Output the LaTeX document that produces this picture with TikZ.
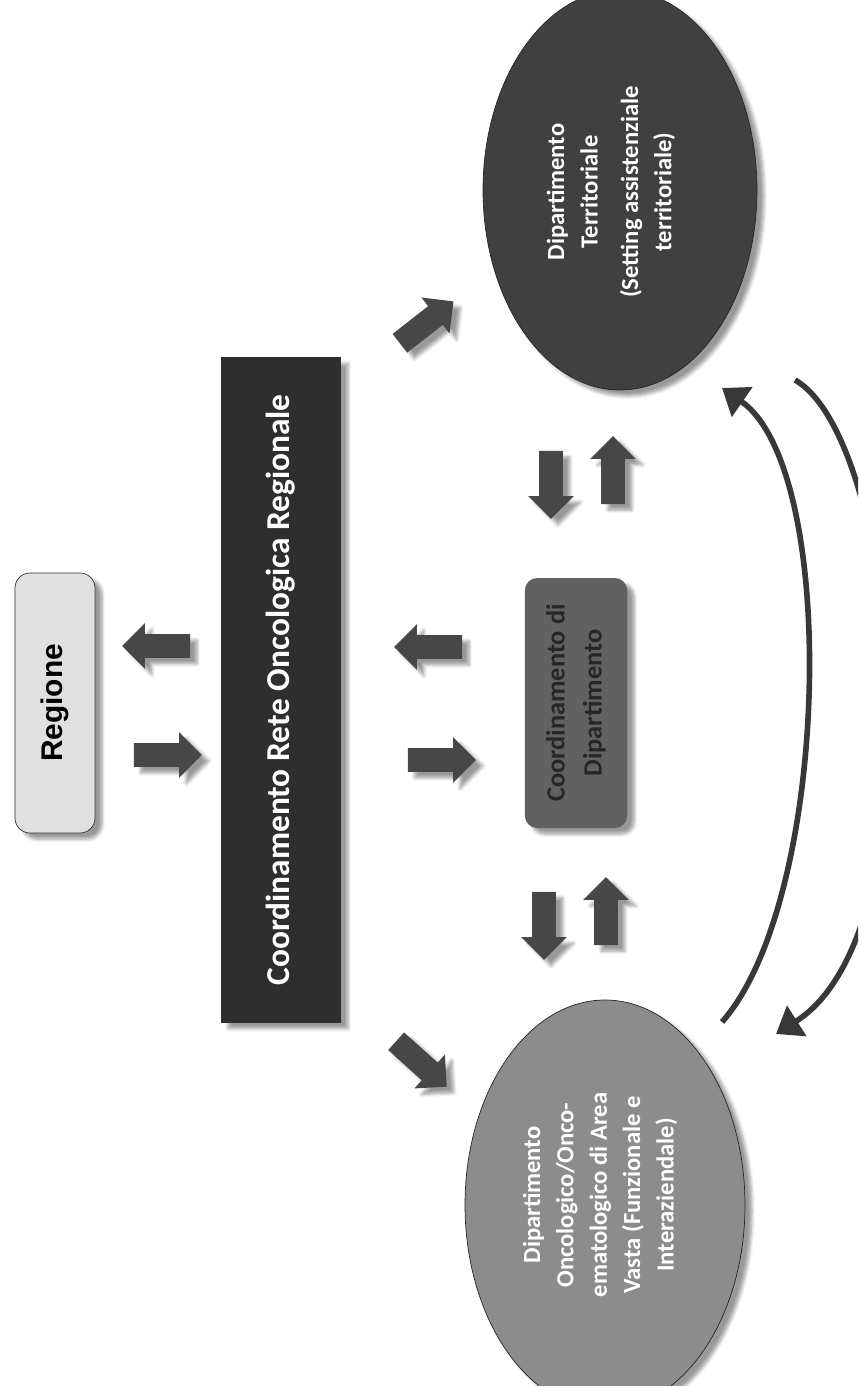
\documentclass[tikz,border=0pt]{standalone}
\usepackage{fontspec}
\setmainfont{Carlito}
\newfontfamily\regfont{Liberation Sans}
\usetikzlibrary{shapes.arrows,shapes.geometric,arrows.meta,shadows.blur}

\begin{document}
\begin{tikzpicture}[x=0.2mm,y=-0.2mm,
  every node/.style={font=\bfseries},
  soft/.style={blur shadow={shadow xshift=1.4mm,shadow yshift=-1.2mm,shadow opacity=40,shadow blur steps=6}},
  blk/.style={single arrow,fill=black!72,minimum height=13.6mm,minimum width=0pt,
    inner xsep=0pt,inner ysep=2.3mm,single arrow head extend=2.2mm,soft},
  regbox/.style={rotate=90,draw=black!80,fill=black!12,rounded corners=3mm,
    minimum width=52mm,minimum height=16mm,soft,
    font=\regfont\bfseries\fontsize{17}{20}\selectfont},
  crbox/.style={rotate=90,fill=black!82,text=white,minimum width=133mm,minimum height=24mm,
    soft,font=\bfseries\fontsize{19}{22}\selectfont},
  cdbox/.style={rotate=90,fill=black!62,text=black!85,rounded corners=2.5mm,align=center,
    minimum width=50mm,minimum height=20.5mm,soft,font=\bfseries\fontsize{15}{21}\selectfont},
  ell/.style={ellipse,rotate=90,draw=black!85,thin,inner sep=0pt,soft},
  etext/.style={rotate=90,text=white,align=center,font=\bfseries\fontsize{14}{19}\selectfont},
  curv/.style={draw=black!78,line width=3.2pt,-{Triangle[width=20pt,length=14pt]}}]
\useasboundingbox (0,0) rectangle (858,1386);
\clip (0,0) rectangle (858,1386);

% boxes
\node[regbox] (reg) at (55,703) {Regione};
\node[crbox] (crn) at (281,690) {Coordinamento Rete Oncologica Regionale};
\node[cdbox] (cdd) at (576,703) {Coordinamento di\\Dipartimento};

% departments
\node[ell,fill=black!75,minimum width=80mm,minimum height=54.8mm] (dter) at (620,190) {};
\node[etext] (dtertx) at (611,192) {Dipartimento\\Territoriale\\[4pt](Setting assistenziale\\territoriale)};
\node[ell,fill=black!45,minimum width=82mm,minimum height=56mm] (dov) at (605,1205) {};
\node[etext] (dovtx) at (600,1195) {Dipartimento\\Oncologico/Onco-\\ematologico di Area\\Vasta (Funzionale e\\Interaziendale)};

% block arrows
\node[blk,rotate=180] (ar1) at (162,646) {};
\node[blk] (ar2) at (162,755) {};
\node[blk,rotate=38] (ar3) at (422,326) {};
\node[blk,rotate=180] (ar4) at (434,647) {};
\node[blk] (ar5) at (436,760) {};
\node[blk,rotate=-42] (ar6) at (417,1060) {};
\node[blk,rotate=-90] (ar7) at (551,479) {};
\node[blk,rotate=90] (ar8) at (613,476) {};
\node[blk,rotate=-90] (ar9) at (544,920) {};
\node[blk,rotate=90] (ar10) at (606,917) {};

% curved arrows between the two departments
\coordinate (c1a) at (722,1022);
\coordinate (c1b) at (722,388);
\coordinate (c2a) at (795,380);
\coordinate (c2b) at (776,1034);
\draw[curv] (c1a) .. controls (830,900) and (840,470) .. (c1b);
\draw[curv] (c2a) .. controls (900,440) and (940,930) .. (c2b);
\end{tikzpicture}
\end{document}
